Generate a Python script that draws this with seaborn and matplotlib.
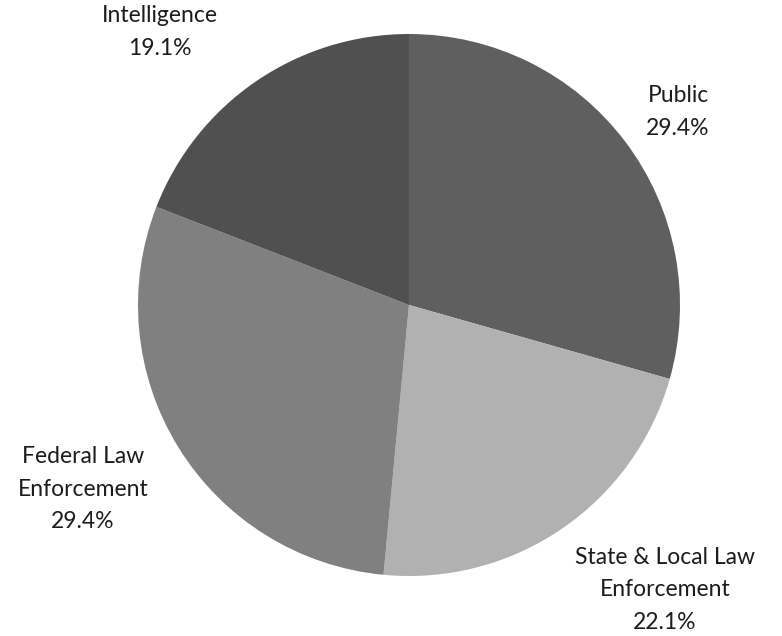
import matplotlib
matplotlib.use("Agg")
import matplotlib.pyplot as plt
import seaborn as sns

categories = ["Public", "State & Local Law\nEnforcement", "Federal Law\nEnforcement", "Intelligence"]
values = [29.4, 22.1, 29.4, 19.1]
colors = ["#5f5f5f", "#b1b1b1", "#808080", "#505050"]

sns.set_theme(style="white")
plt.rcParams['font.family'] = ['Lato', 'DejaVu Sans']

W, H = 782, 636
fig = plt.figure(figsize=(W / 100, H / 100), dpi=100)
ax = fig.add_axes([0, 0, 1, 1])

cx, cy, r = 409, H - 305, 271
ax.pie(values, colors=colors, startangle=90, counterclock=False,
       center=(cx, cy), radius=r, frame=True,
       wedgeprops=dict(linewidth=0))
ax.set_xlim(0, W)
ax.set_ylim(0, H)
ax.set_aspect('equal')
ax.axis('off')

label_pos = [(678, H - 112), (665, H - 590), (83, H - 489), (160, H - 32)]
for name, v, (x, y) in zip(categories, values, label_pos):
    ax.text(x, y, f"{name}\n{v:.1f}%", ha='center', va='center',
            fontsize=16.5, color='#1c1c1c', linespacing=1.7)

fig.savefig("out.png", dpi=100)
